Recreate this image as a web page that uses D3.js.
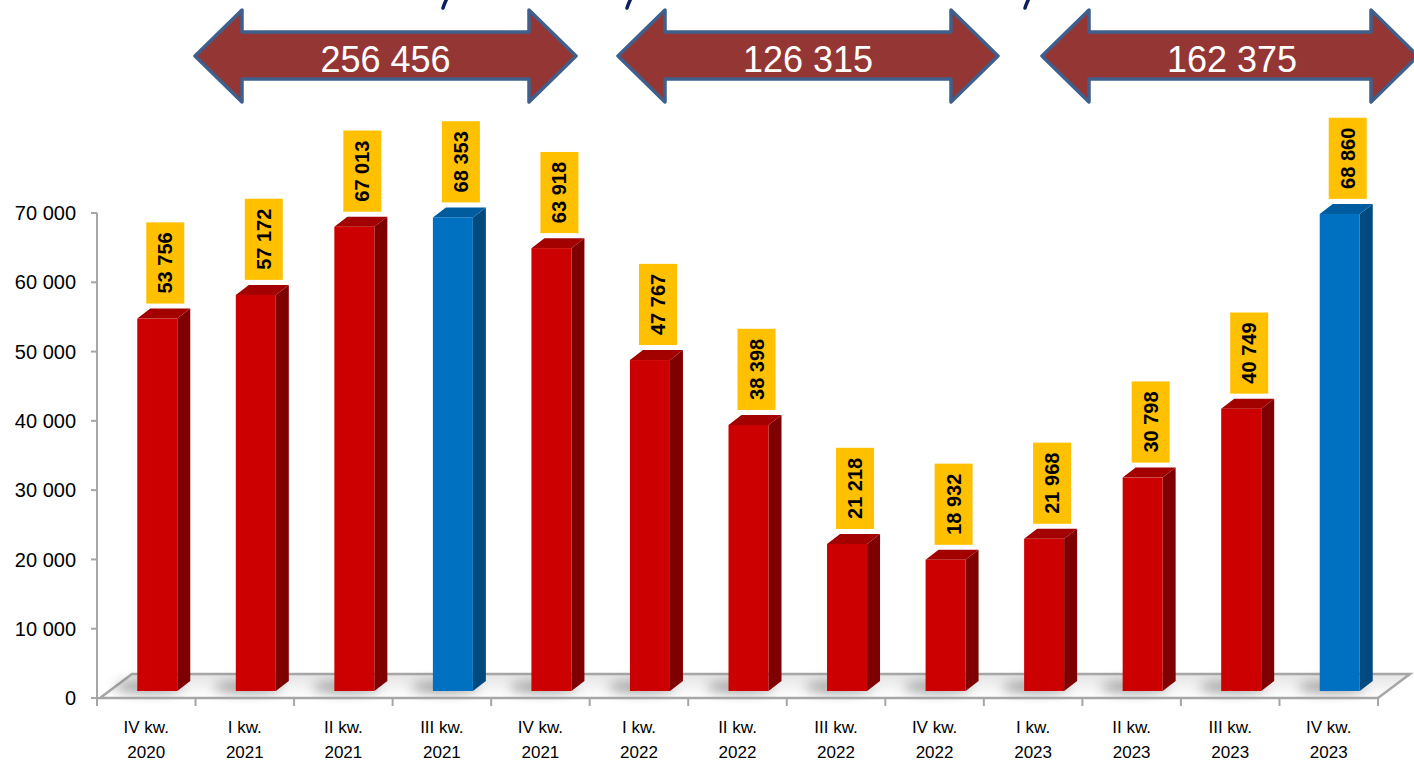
<!DOCTYPE html>
<html>
<head>
<meta charset="utf-8">
<script src="https://cdn.jsdelivr.net/npm/d3@7"></script>
<style>
  body { margin: 0; background: #fff; }
  svg { display: block; font-family: "Liberation Sans", Arial, sans-serif; }
</style>
</head>
<body>
<svg id="chart" width="1414" height="761"></svg>
<script>
// data
const quarters = ["IV kw.", "I kw.", "II kw.", "III kw.", "IV kw.", "I kw.", "II kw.", "III kw.", "IV kw.", "I kw.", "II kw.", "III kw.", "IV kw."];
const years = ["2020", "2021", "2021", "2021", "2021", "2022", "2022", "2022", "2022", "2023", "2023", "2023", "2023"];
const values = [53756, 57172, 67013, 68353, 63918, 47767, 38398, 21218, 18932, 21968, 30798, 40749, 68860];
const highlighted = [false, false, false, true, false, false, false, false, false, false, false, false, true];
const yTicks = [0, 10000, 20000, 30000, 40000, 50000, 60000, 70000];
// bars summed under each arrow (first index, last index)
const groups = [[1, 4], [5, 8], [9, 12]];

const svg = d3.select("#chart");
const fmt = v => d3.format(",")(v).replace(/,/g, " ");

const x = d3.scaleBand().domain(d3.range(values.length)).range([97, 1378]);
const y = d3.scaleLinear().domain([0, 70000]).range([698, 213]);

// 3d offsets
const floorDx = 32, floorDy = -24;
const barShiftX = 11, barShiftY = -7;
const depthX = 13, depthY = -10;
const barW = 40;

const defs = svg.append("defs");
defs.append("filter").attr("id", "blur").attr("x", "-50%").attr("y", "-100%").attr("width", "200%").attr("height", "300%")
  .append("feGaussianBlur").attr("stdDeviation", 6);
const fg = defs.append("linearGradient").attr("id", "floorGrad").attr("x1", 0).attr("y1", 0).attr("x2", 0).attr("y2", 1);
fg.append("stop").attr("offset", "0%").attr("stop-color", "#e4e4e4");
fg.append("stop").attr("offset", "100%").attr("stop-color", "#ffffff");

// floor
const x0 = x.range()[0], x1 = x.range()[1], y0 = y(0);
svg.append("path")
  .attr("d", `M${x0 + 3},${y0} L${x1},${y0} L${x1 + floorDx},${y0 + floorDy} L${x0 + floorDx + 3},${y0 + floorDy} Z`)
  .attr("fill", "url(#floorGrad)")
  .attr("stroke", "#a6a6a6")
  .attr("stroke-width", 2.5);

// shadows under the bars
svg.append("g").selectAll("ellipse")
  .data(values)
  .join("ellipse")
  .attr("cx", (d, i) => x(i) + x.bandwidth() / 2 + barShiftX - 8)
  .attr("cy", y0 - 11)
  .attr("rx", 34)
  .attr("ry", 6)
  .attr("fill", "#666")
  .attr("opacity", 0.6)
  .attr("filter", "url(#blur)");

// y axis
const yAxis = svg.append("g");
yAxis.append("line").attr("x1", 97).attr("x2", 97).attr("y1", y(70000)).attr("y2", y0)
  .attr("stroke", "#a6a6a6").attr("stroke-width", 2);
yAxis.selectAll(".tick").data(yTicks).join("line")
  .attr("x1", 91).attr("x2", 97).attr("y1", d => y(d)).attr("y2", d => y(d))
  .attr("stroke", "#a6a6a6").attr("stroke-width", 2);
yAxis.selectAll("text").data(yTicks).join("text")
  .attr("x", 76).attr("y", d => y(d)).attr("dy", "0.36em")
  .attr("text-anchor", "end").attr("font-size", 20).attr("fill", "#000")
  .text(d => fmt(d));

// x axis
const xAxis = svg.append("g");
xAxis.append("line").attr("x1", x0).attr("x2", x1).attr("y1", y0).attr("y2", y0)
  .attr("stroke", "#a6a6a6").attr("stroke-width", 2);
xAxis.selectAll("line.t").data(d3.range(values.length + 1)).join("line").attr("class", "t")
  .attr("x1", i => x0 + i * x.bandwidth()).attr("x2", i => x0 + i * x.bandwidth())
  .attr("y1", y0).attr("y2", y0 + 8)
  .attr("stroke", "#a6a6a6").attr("stroke-width", 2);
const lab = xAxis.selectAll("text").data(values).join("text")
  .attr("text-anchor", "middle").attr("font-size", 17).attr("fill", "#000");
lab.append("tspan").attr("x", (d, i) => x(i) + x.bandwidth() / 2).attr("y", 733).text((d, i) => quarters[i]);
lab.append("tspan").attr("x", (d, i) => x(i) + x.bandwidth() / 2).attr("y", 758).text((d, i) => years[i]);

// bars
const colors = {
  red: { front: "#cc0000", side: "#7f0000", top: "#a30000" },
  blue: { front: "#0070c0", side: "#004a80", top: "#005c9e" }
};
const bars = svg.append("g").selectAll("g").data(values).join("g");
bars.each(function (v, i) {
  const g = d3.select(this);
  const c = highlighted[i] ? colors.blue : colors.red;
  const l = x(i) + x.bandwidth() / 2 + barShiftX - barW / 2;
  const r = l + barW;
  const b = y(0) + barShiftY;
  const t = y(v) + barShiftY;
  g.append("path")
    .attr("d", `M${r},${t} L${r + depthX},${t + depthY} L${r + depthX},${b + depthY} L${r},${b} Z`)
    .attr("fill", c.side);
  g.append("path")
    .attr("d", `M${l},${t} L${r},${t} L${r + depthX},${t + depthY} L${l + depthX},${t + depthY} Z`)
    .attr("fill", c.top);
  g.append("rect").attr("x", l).attr("y", t).attr("width", barW).attr("height", b - t).attr("fill", c.front);
});

// value labels in yellow boxes
const labels = svg.append("g").selectAll("g").data(values).join("g");
labels.each(function (v, i) {
  const g = d3.select(this);
  const cx = x(i) + x.bandwidth() / 2 + barShiftX + 8;
  const bottom = y(v) + barShiftY + depthY - 5;
  const txt = g.append("text")
    .attr("font-size", 20).attr("font-weight", "bold").attr("fill", "#000")
    .attr("text-anchor", "middle")
    .text(fmt(v));
  const tw = txt.node().getComputedTextLength();
  const h = tw + 20;
  g.insert("rect", "text")
    .attr("x", cx - 19).attr("y", bottom - h).attr("width", 38).attr("height", h)
    .attr("fill", "#ffc000");
  txt.attr("transform", `translate(${cx + 7},${bottom - h / 2}) rotate(-90)`);
});

// group arrows at the top (labels are sums of the grouped bars)
const arrowX = [[195, 576], [618, 998], [1042, 1418]];
const arrows = svg.append("g").selectAll("g").data(groups).join("g");
arrows.each(function (gr, k) {
  const g = d3.select(this);
  const [xl, xr] = arrowX[k];
  const head = 47, tipY = 56, top = 10, bot = 102, sTop = 32, sBot = 79;
  g.append("path")
    .attr("d", `M${xl},${tipY} L${xl + head},${top} L${xl + head},${sTop} L${xr - head},${sTop} L${xr - head},${top} L${xr},${tipY} L${xr - head},${bot} L${xr - head},${sBot} L${xl + head},${sBot} L${xl + head},${bot} Z`)
    .attr("fill", "#943634")
    .attr("stroke", "#3f5f8c")
    .attr("stroke-width", 3.5)
    .attr("stroke-linejoin", "round");
  const sum = d3.sum(values.slice(gr[0], gr[1] + 1));
  g.append("text")
    .attr("x", k === 2 ? 1232 : (xl + xr) / 2).attr("y", 72)
    .attr("text-anchor", "middle").attr("font-size", 36).attr("fill", "#fff")
    .text(fmt(sum));
});

// fragments of the cut-off heading above
const frags = [445, 629, 1027];
svg.append("g").selectAll("path").data(frags).join("path")
  .attr("d", d => `M${d + 2},-2 L${d - 1},5 L${d - 2},8`)
  .attr("stroke", "#0b1f5e").attr("stroke-width", 3.5).attr("fill", "none").attr("stroke-linecap", "round");
</script>
</body>
</html>
